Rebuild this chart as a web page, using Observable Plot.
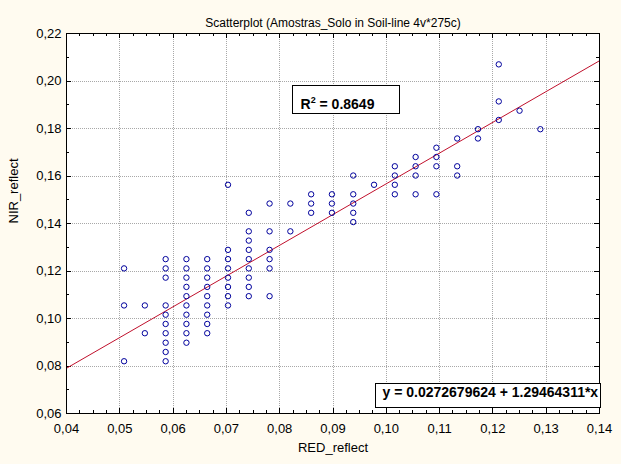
<!DOCTYPE html>
<html>
<head>
<meta charset="utf-8">
<script src="https://cdn.jsdelivr.net/npm/d3@7"></script>
<script src="https://cdn.jsdelivr.net/npm/@observablehq/plot@0.6"></script>
<style>
  html, body { margin: 0; padding: 0; background: #FFFBF0; }
  #chart svg { display: block; }
</style>
</head>
<body>
<div id="chart"></div>
<script>
// ---- Data ----
const redValues = [0.0508, 0.0547, 0.0586, 0.0625, 0.0664, 0.0703, 0.0742, 0.0781, 0.0820, 0.0859,
                   0.0898, 0.0938, 0.0977, 0.1016, 0.1055, 0.1094, 0.1133, 0.1172, 0.1211, 0.1250, 0.1289];
const nirByRed = [
  [0.1211, 0.1055, 0.0820],
  [0.1055, 0.0938],
  [0.1250, 0.1211, 0.1172, 0.1055, 0.1016, 0.0977, 0.0938, 0.0898, 0.0859, 0.0820],
  [0.1250, 0.1211, 0.1172, 0.1133, 0.1094, 0.1055, 0.1016, 0.0977, 0.0938, 0.0898],
  [0.1250, 0.1211, 0.1172, 0.1133, 0.1094, 0.1055, 0.1016, 0.0977, 0.0938],
  [0.1563, 0.1289, 0.1250, 0.1211, 0.1172, 0.1133, 0.1094, 0.1055],
  [0.1445, 0.1367, 0.1328, 0.1289, 0.1250, 0.1211, 0.1172, 0.1133, 0.1094],
  [0.1484, 0.1367, 0.1289, 0.1250, 0.1211, 0.1094],
  [0.1484, 0.1367],
  [0.1523, 0.1484, 0.1445],
  [0.1523, 0.1484, 0.1445],
  [0.1602, 0.1523, 0.1484, 0.1445, 0.1406],
  [0.1563],
  [0.1641, 0.1602, 0.1563, 0.1523],
  [0.1680, 0.1641, 0.1602, 0.1523],
  [0.1719, 0.1680, 0.1641, 0.1523],
  [0.1758, 0.1641, 0.1602],
  [0.1797, 0.1758],
  [0.2070, 0.1914, 0.1836],
  [0.1875],
  [0.1797]
];
const fitIntercept = 0.0272679624;
const fitSlope = 1.29464311;
const r2Value = "0.8649";
const xTicks = [0.04, 0.05, 0.06, 0.07, 0.08, 0.09, 0.10, 0.11, 0.12, 0.13, 0.14];
const yTicks = [0.06, 0.08, 0.10, 0.12, 0.14, 0.16, 0.18, 0.20, 0.22];
const xMinor = d3.range(0.0425, 0.14, 0.0025);
const yMinor = d3.range(0.07, 0.22, 0.02);
const titleText = "Scatterplot (Amostras_Solo in Soil-line 4v*275c)";
const xLabel = "RED_reflect";
const yLabel = "NIR_reflect";

// ---- Derived tables ----
const points = redValues.flatMap((x, i) => nirByRed[i].map(y => ({red: x, nir: y})));
const xDomain = [xTicks[0], xTicks[xTicks.length - 1]];
const yDomain = [yTicks[0], yTicks[yTicks.length - 1]];
const fitLine = xDomain.map(x => ({x, y: fitIntercept + fitSlope * x}));
const eqText = `y = ${fitIntercept} + ${fitSlope}*x`;
const r2Text = `R2 = ${r2Value}`;

// ---- Layout ----
const W = 621, H = 464, mL = 66, mR = 22, mT = 33, mB = 51;
const plotW = W - mL - mR, plotH = H - mT - mB;
const fmt = d => d.toFixed(2).replace(".", ",");
const font = "'Liberation Sans', Arial, Helvetica, sans-serif";
const crisp = {shapeRendering: "crispEdges"};

const plot = Plot.plot({
  width: W, height: H,
  marginLeft: mL, marginRight: mR, marginTop: mT, marginBottom: mB,
  style: {background: "#FFFBF0", fontFamily: font, fontSize: "13px", color: "#000", overflow: "visible"},
  x: {domain: xDomain},
  y: {domain: yDomain},
  marks: [
    Plot.frame({fill: "white", stroke: "none"}),
    // dotted grid
    Plot.ruleX(xTicks.slice(1, -1), {stroke: "#a8a8a8", strokeDasharray: "1,1", ...crisp}),
    Plot.ruleY(yTicks.slice(1, -1), {stroke: "#a8a8a8", strokeDasharray: "1,1", ...crisp}),
    // inward ticks on all four sides
    Plot.ruleX(xMinor, {insetTop: plotH - 3, stroke: "black", ...crisp}),
    Plot.ruleX(xMinor, {insetBottom: plotH - 3, stroke: "black", ...crisp}),
    Plot.ruleX(xTicks, {insetTop: plotH - 5, stroke: "black", ...crisp}),
    Plot.ruleX(xTicks, {insetBottom: plotH - 5, stroke: "black", ...crisp}),
    Plot.ruleY(yMinor, {insetRight: plotW - 3, stroke: "black", ...crisp}),
    Plot.ruleY(yMinor, {insetLeft: plotW - 3, stroke: "black", ...crisp}),
    Plot.ruleY(yTicks, {insetRight: plotW - 5, stroke: "black", ...crisp}),
    Plot.ruleY(yTicks, {insetLeft: plotW - 5, stroke: "black", ...crisp}),
    // regression line
    Plot.line(fitLine, {x: "x", y: "y", stroke: "#c0102c", strokeWidth: 1}),
    // points
    Plot.dot(points, {x: "red", y: "nir", r: 2.7, stroke: "#00009c", strokeWidth: 1, fill: "none"}),
    Plot.frame({stroke: "black", ...crisp}),
    // axes
    Plot.axisX({ticks: xTicks, tickFormat: fmt, tickSize: 0, tickPadding: 10, label: null, fill: "black", fontSize: 13}),
    Plot.axisY({ticks: yTicks, tickFormat: fmt, tickSize: 0, tickPadding: 5, label: null, fill: "black", fontSize: 13}),
    // titles
    Plot.text([titleText], {text: d => d, frameAnchor: "top", dy: -15, fontSize: 12, fill: "black"}),
    Plot.text([xLabel], {text: d => d, frameAnchor: "bottom", dy: 38, fontSize: 13, fill: "black"}),
    Plot.text([yLabel], {text: d => d, frameAnchor: "left", dx: -53, rotate: -90, fontSize: 13, fill: "black"}),
    // annotations
    Plot.text([r2Text], {text: d => d, frameAnchor: "top-left", dx: 234, dy: 66, textAnchor: "start",
                         fontWeight: "bold", fontSize: 14, fill: "black"}),
    Plot.text([eqText], {text: d => d, frameAnchor: "bottom-left", dx: 316, dy: -17, textAnchor: "start",
                         fontWeight: "bold", fontSize: 14, fill: "black"})
  ]
});

document.getElementById("chart").appendChild(plot);

// boxes behind the annotation texts, superscript in R²
function boxBehind(textEl, x, y, w, h) {
  const rect = document.createElementNS("http://www.w3.org/2000/svg", "rect");
  rect.setAttribute("x", x); rect.setAttribute("y", y);
  rect.setAttribute("width", w); rect.setAttribute("height", h);
  rect.setAttribute("fill", "white"); rect.setAttribute("stroke", "black");
  rect.setAttribute("stroke-width", 1);
  rect.setAttribute("shape-rendering", "crispEdges");
  const tr = textEl.getAttribute("transform");
  if (tr) rect.setAttribute("transform", tr);
  textEl.parentNode.insertBefore(rect, textEl);
}
const texts = [...plot.querySelectorAll("text")];
const r2El = texts.find(t => t.textContent === r2Text);
const eqEl = texts.find(t => t.textContent === eqText);
if (r2El) {
  r2El.textContent = "";
  const ns = "http://www.w3.org/2000/svg";
  const a = document.createElementNS(ns, "tspan"); a.textContent = "R";
  const b = document.createElementNS(ns, "tspan"); b.textContent = "2";
  b.setAttribute("font-size", "9"); b.setAttribute("dy", "-6");
  const c = document.createElementNS(ns, "tspan"); c.textContent = " = " + r2Value;
  c.setAttribute("dy", "6");
  r2El.append(a, b, c);
  boxBehind(r2El, -8.5, -14.5, 107, 28);
}
if (eqEl) boxBehind(eqEl, -7.5, -13.5, 225, 24);
</script>
</body>
</html>
